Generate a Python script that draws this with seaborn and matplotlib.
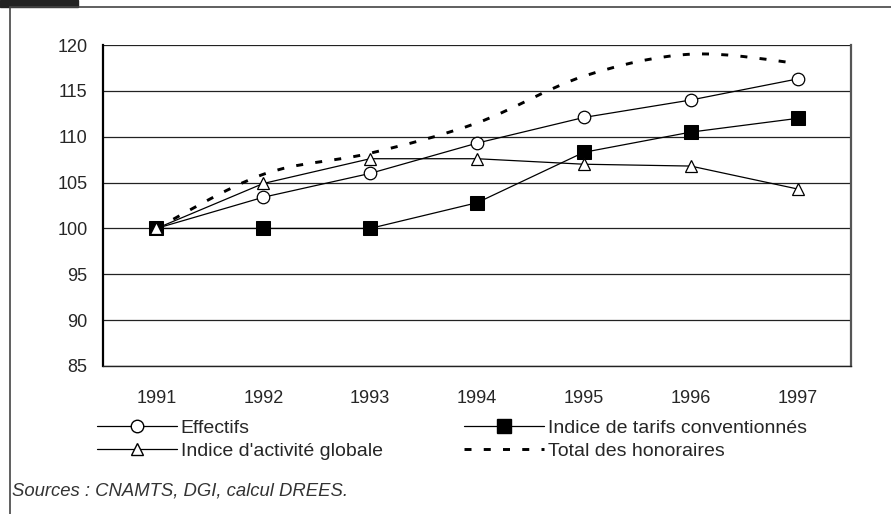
import matplotlib
matplotlib.use("Agg")
import matplotlib.pyplot as plt
import matplotlib.patches as mpatches
from matplotlib.path import Path
from matplotlib.lines import Line2D
import seaborn as sns
import numpy as np
import pandas as pd

# data
years = ["1991", "1992", "1993", "1994", "1995", "1996", "1997"]
effectifs = [100, 103.4, 106.0, 109.3, 112.1, 114.0, 116.3]
tarifs = [100, 100, 100, 102.8, 108.3, 110.5, 112.0]
activite = [100, 104.9, 107.6, 107.6, 107.0, 106.8, 104.3]
total = [100, 105.9, 108.2, 111.5, 116.6, 119.0, 118.0]

sns.set_style("white")
plt.rcParams["font.family"] = ["Liberation Sans", "DejaVu Sans"]
plt.rcParams["font.size"] = 13

fig = plt.figure(figsize=(8.91, 5.14), dpi=100)
ax = fig.add_axes([103 / 891, 1 - 366 / 514, 748 / 891, 321 / 514])

pos = np.arange(len(years))
df = pd.DataFrame({"pos": pos, "eff": effectifs, "tar": tarifs, "act": activite})

# grid first (behind the lines)
for v in range(85, 121, 5):
    ax.axhline(v, color="#222222", lw=0.9, zorder=1)

sns.lineplot(data=df, x="pos", y="eff", ax=ax, color="black", lw=0.9, marker="o",
             markersize=9, markerfacecolor="white", markeredgecolor="black",
             markeredgewidth=0.9, zorder=4)
sns.lineplot(data=df, x="pos", y="tar", ax=ax, color="black", lw=0.9, marker="s",
             markersize=10, markerfacecolor="black", markeredgecolor="black", zorder=5)
sns.lineplot(data=df, x="pos", y="act", ax=ax, color="black", lw=0.9, marker="^",
             markersize=8, markerfacecolor="white", markeredgecolor="black",
             markeredgewidth=0.9, zorder=6)

# smoothed dashed line (Excel-like Bezier through the points)
pts = np.column_stack([pos, total])
verts = [tuple(pts[0])]
codes = [Path.MOVETO]
n = len(pts)
for i in range(n - 1):
    p0 = pts[max(i - 1, 0)]
    p1 = pts[i]
    p2 = pts[i + 1]
    p3 = pts[min(i + 2, n - 1)]
    c1 = p1 + (p2 - p0) / 6
    c2 = p2 - (p3 - p1) / 6
    verts += [tuple(c1), tuple(c2), tuple(p2)]
    codes += [Path.CURVE4] * 3
dash = (0, (2.4, 4.2))
ax.add_patch(mpatches.PathPatch(Path(verts, codes), fill=False, edgecolor="black",
                                lw=2.1, linestyle=dash, capstyle="butt", zorder=3))

ax.set_ylim(85, 120)
ax.set_xlim(-0.5, len(years) - 0.5)
ax.set_yticks(range(85, 121, 5))
ax.set_xticks(np.arange(len(years) + 1) - 0.5)
ax.set_xticklabels([])
ax.set_xticks(pos, minor=True)
ax.set_xticklabels(years, minor=True)
ax.tick_params(axis="x", which="minor", length=0, pad=17, labelsize=13)
ax.tick_params(axis="x", which="major", length=5, width=1, color="black", direction="out")
ax.tick_params(axis="y", length=5, width=1, color="black", direction="out", pad=6, labelsize=13)
ax.set_xlabel("")
ax.set_ylabel("")

ax.spines["left"].set_color("black")
ax.spines["left"].set_linewidth(1.6)
ax.spines["bottom"].set_color("#222222")
ax.spines["bottom"].set_linewidth(1.0)
ax.spines["right"].set_color("#555555")
ax.spines["right"].set_linewidth(1.6)
ax.spines["top"].set_visible(False)

handles = [
    Line2D([], [], color="black", lw=0.9, marker="o", markersize=9,
           markerfacecolor="white", markeredgecolor="black"),
    Line2D([], [], color="black", lw=0.9, marker="^", markersize=8,
           markerfacecolor="white", markeredgecolor="black"),
    Line2D([], [], color="black", lw=0.9, marker="s", markersize=10,
           markerfacecolor="black"),
    Line2D([], [], color="black", lw=2.1, linestyle=dash),
]
labels = ["Effectifs", "Indice d'activité globale",
          "Indice de tarifs conventionnés", "Total des honoraires"]
fig.legend(handles, labels, ncol=2, loc="upper left",
           bbox_to_anchor=(97 / 891, 1 - 419 / 514), frameon=False,
           handlelength=4.1, handletextpad=0.2, columnspacing=4.2,
           labelspacing=0.3, borderaxespad=0, borderpad=0, fontsize=14)

fig.text(12 / 891, 1 - 491 / 514, "Sources : CNAMTS, DGI, calcul DREES.",
         style="italic", fontsize=13.3, color="#333333", va="center", ha="left")

# outer frame and dark tab at the top left
fig.add_artist(Line2D([10 / 891, 10 / 891], [0, 1 - 7 / 514], color="#444444", lw=1.2))
fig.add_artist(Line2D([10 / 891, 1], [1 - 7 / 514, 1 - 7 / 514], color="#444444", lw=1.2))
fig.add_artist(mpatches.Rectangle((0, 1 - 7 / 514), 78 / 891, 7 / 514,
                                  color="#222222", transform=fig.transFigure))

fig.savefig("out.png", dpi=100)
